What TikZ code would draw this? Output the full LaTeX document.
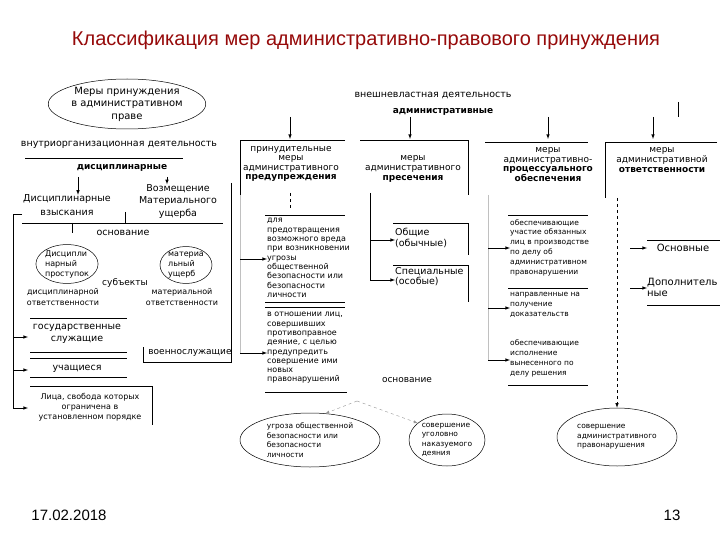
\documentclass[tikz,border=0pt]{standalone}
\usepackage{fontspec}
\setmainfont{DejaVu Sans}
\newfontfamily\slidefont{Liberation Sans}
\usetikzlibrary{shapes,arrows}
\definecolor{titlered}{RGB}{150,10,10}
\definecolor{lgray}{RGB}{150,150,150}

\tikzset{
  >=latex,
  ln/.style={line width=0.6pt},
  lg/.style={line width=0.4pt, lgray!60},
  tx/.style={inner sep=0pt, align=center, font=\fontsize{8}{9.3}\selectfont},
  txl/.style={tx, align=left, anchor=west},
  hd/.style={inner sep=0pt, align=center, font=\fontsize{9}{9.6}\selectfont},
  ov/.style={draw, ellipse, inner sep=0pt, line width=0.5pt, align=left, font=\fontsize{7.5}{9.5}\selectfont},
}

\begin{document}
\begin{tikzpicture}[x=1pt, y=-1pt]
  \fill [white] (0,0) rectangle (720,540);
  \useasboundingbox (0,0) rectangle (720,540);

  \node [font=\slidefont\fontsize{20}{22}\selectfont, text=titlered] (title) at (366,40) {Классификация мер административно-правового принуждения};

  % left block
  \node [ov, align=center, font=\fontsize{10}{12.5}\selectfont, minimum width=146pt, minimum height=50pt] (prav) at (127,104) {Меры принуждения\\в административном\\праве};
  \node [tx, font=\fontsize{9.5}{11}\selectfont] (vnutr) at (119,145) {внутриорганизационная деятельность};
  \draw [ln] (25,158) -- (183,158);
  \node [tx, font=\bfseries\fontsize{9}{11}\selectfont] (disc) at (122,168) {дисциплинарные};

  \node [tx, font=\fontsize{9.5}{14}\selectfont] (vz) at (67,205.5) {Дисциплинарные\\взыскания};
  \node [tx, font=\fontsize{9.5}{12.5}\selectfont] (vm) at (178,201.5) {Возмещение\\Материального\\ущерба};
  \coordinate (d1) at (78,177);
  \coordinate (d2) at (167,177);
  \draw [ln,->] (d1) -- (d1 |- vz.north);
  \draw [ln,->] (d2) -- (d2 |- vm.north);

  \draw [ln] (22,214) -- (13,214) -- (13,408);
  \draw [ln] (22,223) -- (223,223);
  \draw [ln] (125,212) -- (125,223);
  \draw [ln] (231,183) -- (231,362) -- (143,362) -- (143,347);
  \draw [ln] (72,223) -- (72,233);

  \node [tx, font=\fontsize{9.5}{11}\selectfont] (osn1) at (123,233) {основание};
  \node [ov, minimum width=58pt, minimum height=36pt, font=\fontsize{8}{10}\selectfont] (proc) at (67,264) {Дисципли\\нарный\\проступок};
  \node [ov, minimum width=52pt, minimum height=36pt, font=\fontsize{8}{10}\selectfont] (ush) at (186,265) {материа\\льный\\ущерб};
  \node [tx, font=\fontsize{9}{11}\selectfont] (subj) at (125,283) {субъекты};
  \node [tx, font=\fontsize{8}{11}\selectfont] (dotv) at (63,297) {дисциплинарной\\ответственности};
  \node [tx, font=\fontsize{8}{11}\selectfont] (motv) at (182,297) {материальной\\ответственности};

  \draw [ln] (30,318) -- (127,318);
  \node [tx, font=\fontsize{9.5}{12}\selectfont] (gs) at (77,334) {государственные\\служащие};
  \draw [ln] (30,352) -- (127,352);
  \draw [ln] (30,358) -- (127,358);
  \node [tx, font=\fontsize{9.5}{11}\selectfont] (uch) at (77,369) {учащиеся};
  \draw [ln] (30,377) -- (127,377);
  \draw [ln] (30,386) -- (152,386) -- (152,425);
  \node [tx, font=\fontsize{8}{10}\selectfont] (lica) at (90,407) {Лица, свобода которых\\ограничена в\\установленном порядке};
  \node [tx, font=\fontsize{9}{11}\selectfont] (voen) at (190,353) {военнослужащие};

  \coordinate (l1) at (13,337);  \coordinate (l1e) at (28,337);
  \coordinate (l2) at (13,370);  \coordinate (l2e) at (28,370);
  \coordinate (l3) at (13,408);  \coordinate (l3e) at (28,408);
  \draw [ln,->] (l1) -- (l1e);
  \draw [ln,->] (l2) -- (l2e);
  \draw [ln,->] (l3) -- (l3e);

  % external activity
  \node [tx, font=\fontsize{9.5}{11}\selectfont] (vneshn) at (433,95) {внешневластная деятельность};
  \node [tx, font=\bfseries\fontsize{9}{11}\selectfont] (admv) at (443,112) {административные};

  \node [hd] (pred) at (291,164) {принудительные\\меры\\административного\\\textbf{предупреждения}};
  \node [hd] (pres) at (413,169) {меры\\административного\\\textbf{пресечения}};
  \node [hd] (obesp) at (548,164.5) {меры\\административно-\\\textbf{процессуального}\\\textbf{обеспечения}};
  \node [hd] (otv) at (662,160) {меры\\административной\\\textbf{ответственности}};

  \foreach \n/\x in {pred/290, pres/410, obesp/548, otv/653} {
    \coordinate (a\n) at (\x,117);
    \draw [ln,->] (a\n) -- ++(0,22);
  }
  \draw [ln] (345,140) -- (240,140) -- (240,195);
  \draw [ln] (360,140) -- (468,140) -- (468,195);
  \draw [ln] (485,142) -- (588,142);
  \draw [ln] (717,142) -- (605,142) -- (605,198);
  \draw [ln] (678,102) -- (678,117);

  % warning
  \draw [ln,dashed] (290,193) -- (290,208);
  \draw [lg] (240,195) -- (240,353);
  \draw [ln] (265,215) -- (345,215);
  \node [txl] (pr1) at (267,258) {для\\предотвращения\\возможного вреда\\при возникновении\\угрозы\\общественной\\безопасности или\\безопасности\\личности};
  \draw [ln] (265,302) -- (345,302);
  \draw [ln] (265,307) -- (345,307);
  \node [txl] (pr2) at (267,348) {в отношении лиц,\\совершивших\\противоправное\\деяние, с целью\\предупредить\\совершение ими\\новых\\правонарушений};
  \draw [ln] (265,392) -- (347,392);
  \coordinate (p1) at (240,259);  \coordinate (p2) at (240,353);
  \draw [ln,->] (p1) -- (p1 -| pr1.west);
  \draw [ln,->] (p2) -- (p2 -| pr2.west);

  % suppression
  \draw [ln] (370,193) -- (370,280);
  \node [txl, font=\fontsize{9.5}{11}\selectfont] (obsh) at (395,237.5) {Общие\\(обычные)};
  \node [txl, font=\fontsize{9.5}{10}\selectfont] (spec) at (395,277) {Специальные\\(особые)};
  \coordinate (s1) at (370,240);  \coordinate (s2) at (370,280);
  \draw [ln,->] (s1) -- (s1 -| obsh.west);
  \draw [ln,->] (s2) -- (s2 -| spec.west);
  \draw [ln] (393,223) -- (468,223) -- (468,255);
  \draw [ln] (393,265) -- (468,265) -- (468,302);
  \node [tx, font=\fontsize{9}{11}\selectfont] (osn2) at (407,380) {основание};

  % procedure
  \draw [lg] (488,195) -- (488,360);
  \draw [ln] (508,215) -- (588,215);
  \node [txl, font=\fontsize{7.5}{9.8}\selectfont] (ob1) at (510,247.5) {обеспечивающие\\участие обязанных\\лиц в производстве\\по делу об\\административном\\правонарушении};
  \draw [ln] (508,288) -- (588,288);
  \node [txl, font=\fontsize{7.5}{10}\selectfont] (ob2) at (510,305) {направленные на\\получение\\доказательств};
  \node [txl, font=\fontsize{7.5}{10}\selectfont] (ob3) at (510,358) {обеспечивающие\\исполнение\\вынесенного по\\делу решения};
  \draw [ln] (508,385) -- (588,385);
  \coordinate (o1) at (488,248);  \coordinate (o2) at (488,308);  \coordinate (o3) at (488,360);
  \draw [ln,->] (o1) -- (o1 -| ob1.west);
  \draw [ln,->] (o2) -- (o2 -| ob2.west);
  \draw [ln,->] (o3) -- (o3 -| ob3.west);

  % responsibility
  \node [tx, font=\fontsize{10}{11}\selectfont] (osnv) at (683,248) {Основные};
  \node [txl, font=\fontsize{10}{11}\selectfont] (dop) at (647,287.5) {Дополнитель\\ные};
  \draw [ln] (647,240) -- (720,240);
  \draw [ln] (647,305) -- (720,305);
  \coordinate (r1) at (630,248);  \coordinate (r2) at (630,288);
  \draw [ln,->] (r1) -- (r1 -| dop.west);
  \draw [ln,->] (r2) -- (r2 -| dop.west);

  % grounds
  \node [ov, minimum width=140pt, minimum height=54pt] (e1) at (310,440) {угроза общественной\\безопасности или\\безопасности\\личности};
  \node [ov, minimum width=76pt, minimum height=52pt] (e2) at (447,440) {совершение\\уголовно\\наказуемого\\деяния};
  \node [ov, minimum width=120pt, minimum height=58pt] (e3) at (617,437) {совершение\\административного\\правонарушения};
  \coordinate (otvd) at (617,198);
  \draw [ln,dashed,->] (otvd) -- (e3.north);
  \coordinate (apex) at (357,401);
  \draw [dashed, lgray, ->] (apex) -- (e1.60);
  \draw [dashed, lgray, ->] (apex) -- (e2.150);

  % footer
  \node [font=\slidefont\fontsize{15}{17}\selectfont] (date) at (69,515) {17.02.2018};
  \node [font=\slidefont\fontsize{15}{17}\selectfont] (page) at (672,515) {13};
\end{tikzpicture}
\end{document}
